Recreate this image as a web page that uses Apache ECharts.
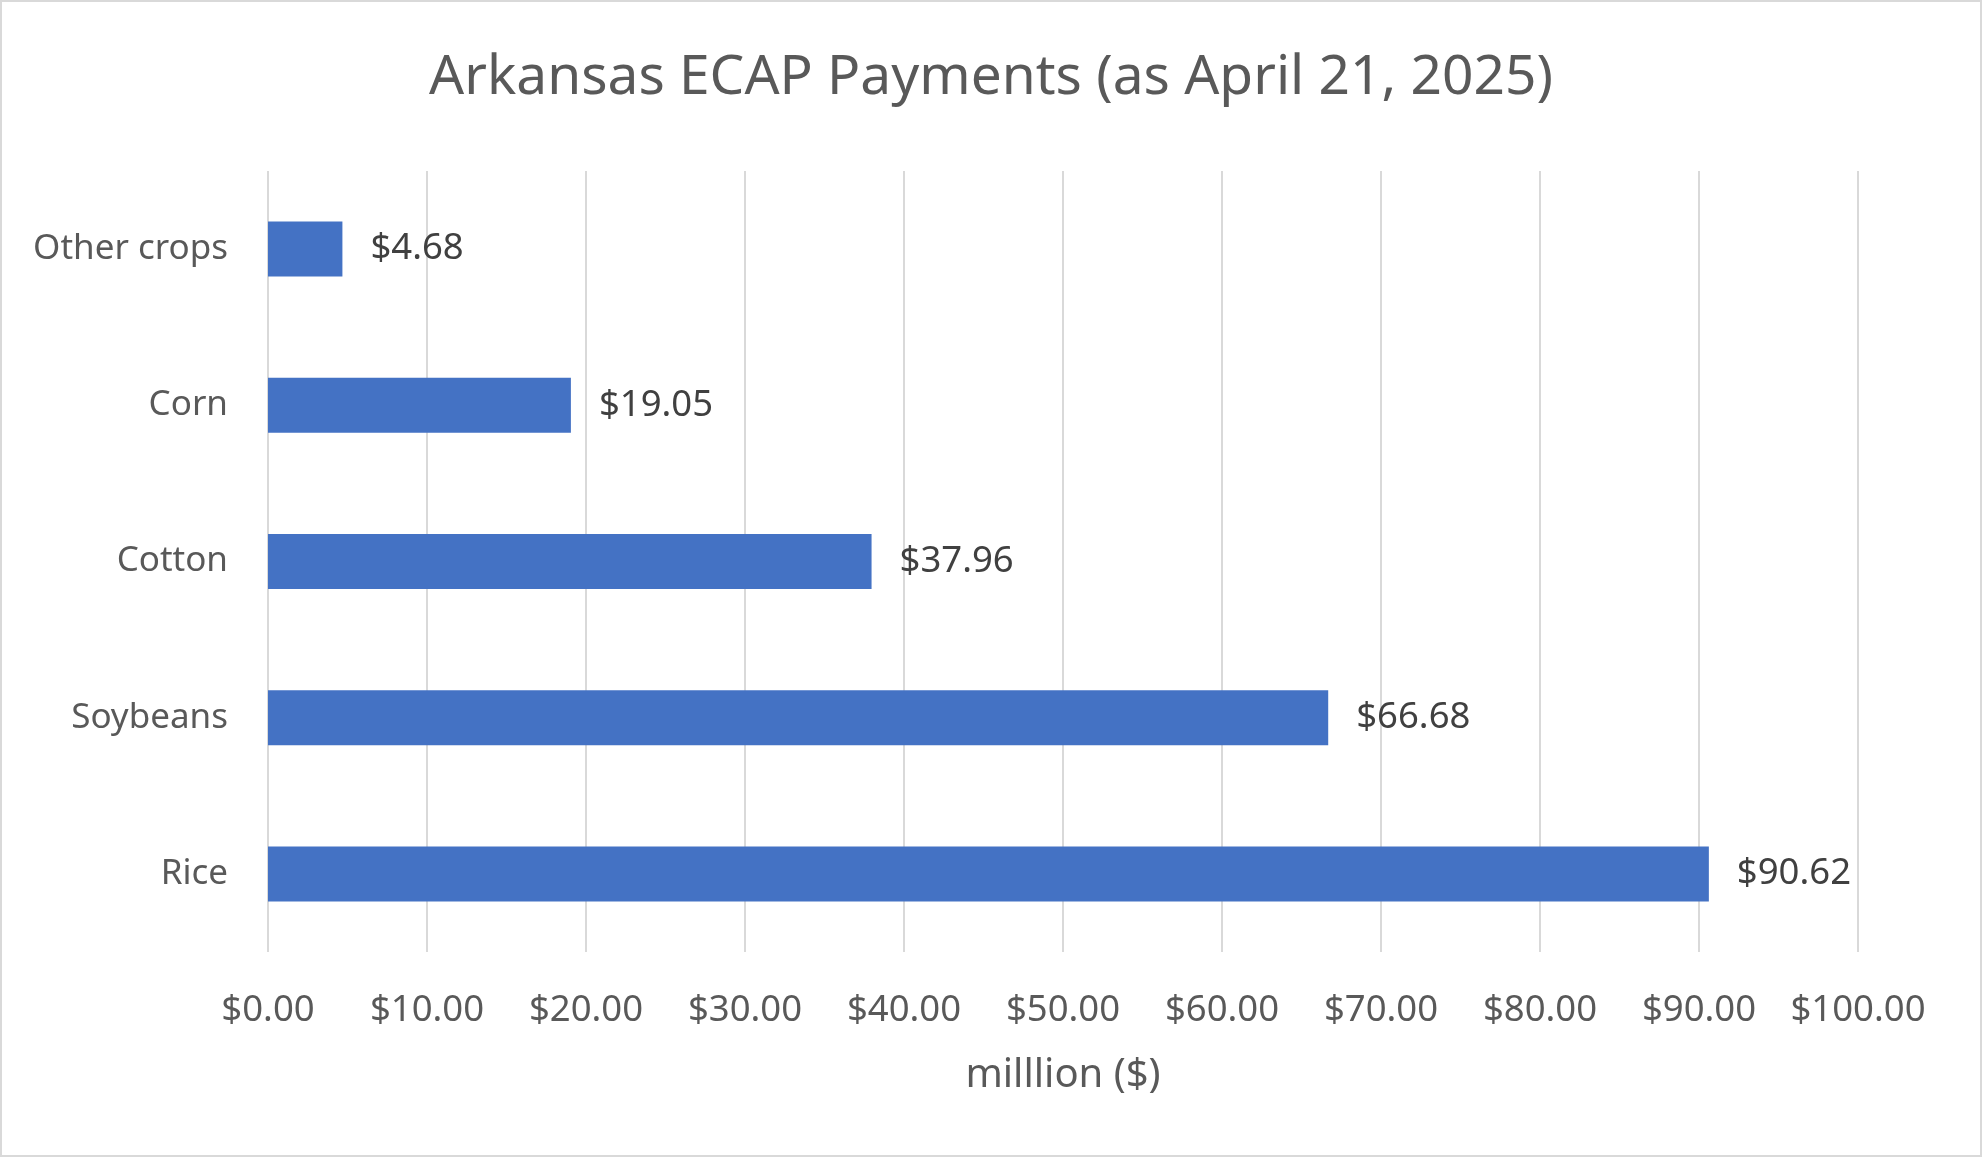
<!DOCTYPE html>
<html lang="en">
	<head>
		<meta charset="UTF-8">
		<title>Arkansas ECAP Payments</title>
		<script src="https://cdn.jsdelivr.net/npm/echarts@6/dist/echarts.min.js"></script>
		<style type="text/css">
			html, body {
				margin: 0;
				padding: 0;
				background-color: #FFFFFF;
			}
			.box {
				width: 1982px;
				height: 1157px;
				box-sizing: border-box;
				border: 2px solid #D9D9D9;
			}
			#chart {
				width: 1978px;
				height: 1153px;
			}
		</style>
	</head>
	<body>
		<div class="box">
			<div id="chart"></div>
		</div>
	</body>
	<script type="text/javascript">
		// 数据
		var crops = ['Rice', 'Soybeans', 'Cotton', 'Corn', 'Other crops'];
		var payments = [90.62, 66.68, 37.96, 19.05, 4.68];
		var xTicks = [0, 10, 20, 30, 40, 50, 60, 70, 80, 90, 100];

		var chart = echarts.init(document.getElementById('chart'));
		var font = 'Noto Sans';

		var option = {
			backgroundColor: '#FFFFFF',
			animation: false,
			title: {
				text: 'Arkansas ECAP Payments (as April 21, 2025)',
				left: 'center',
				top: 44,
				textStyle: {
					fontFamily: font,
					fontSize: 55,
					fontWeight: 'normal',
					color: '#595959'
				}
			},
			grid: {
				left: 266,
				right: 122,
				top: 169,
				bottom: 203
			},
			xAxis: {
				type: 'value',
				min: xTicks[0],
				max: xTicks[xTicks.length - 1],
				interval: 10,
				name: 'milllion ($)',
				nameLocation: 'middle',
				nameGap: 104,
				nameTextStyle: {
					fontFamily: font,
					fontSize: 40,
					color: '#595959'
				},
				axisLine: { show: false },
				axisTick: { show: false },
				axisLabel: {
					margin: 40,
					fontFamily: font,
					fontSize: 36.5,
					color: '#595959',
					formatter: function (v) {
						return '$' + v.toFixed(2);
					}
				},
				splitLine: {
					show: true,
					lineStyle: { color: '#D9D9D9', width: 2 }
				}
			},
			yAxis: {
				type: 'category',
				data: crops,
				axisLine: { show: false },
				axisTick: { show: false },
				axisLabel: {
					margin: 40,
					fontFamily: font,
					fontSize: 35,
					color: '#595959'
				}
			},
			series: [
				{
					type: 'bar',
					data: payments,
					barWidth: 55,
					itemStyle: { color: '#4472C4' },
					label: {
						show: true,
						position: 'right',
						distance: 28,
						fontFamily: font,
						fontSize: 36.5,
						color: '#404040',
						formatter: function (p) {
							return '$' + p.value.toFixed(2);
						}
					}
				}
			]
		};
		chart.setOption(option);
	</script>
</html>
